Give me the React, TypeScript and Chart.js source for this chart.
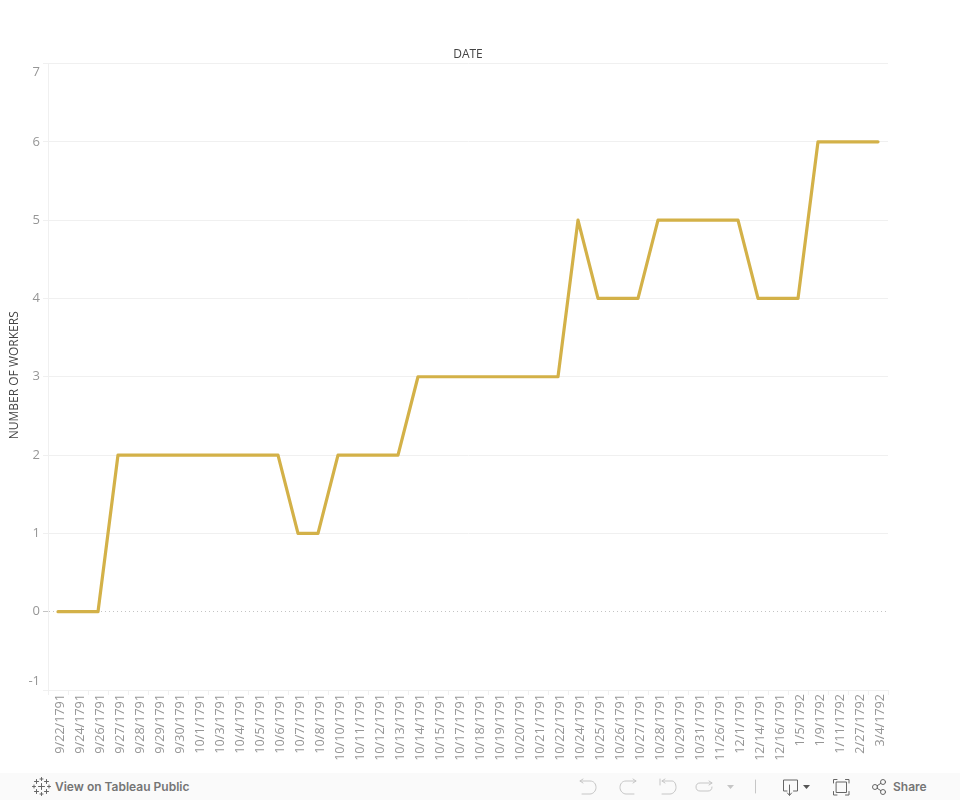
import React, { useEffect, useRef } from "react";
import { Chart, registerables } from "chart.js";

Chart.register(...registerables);

const dates = [
  "9/22/1791", "9/24/1791", "9/26/1791", "9/27/1791", "9/28/1791", "9/29/1791", "9/30/1791",
  "10/1/1791", "10/3/1791", "10/4/1791", "10/5/1791", "10/6/1791", "10/7/1791", "10/8/1791",
  "10/10/1791", "10/11/1791", "10/12/1791", "10/13/1791", "10/14/1791", "10/15/1791", "10/17/1791",
  "10/18/1791", "10/19/1791", "10/20/1791", "10/21/1791", "10/22/1791", "10/24/1791", "10/25/1791",
  "10/26/1791", "10/27/1791", "10/28/1791", "10/29/1791", "10/31/1791", "11/26/1791", "12/1/1791",
  "12/14/1791", "12/16/1791", "1/5/1792", "1/9/1792", "1/11/1792", "2/27/1792", "3/4/1792",
];
const workers = [
  0, 0, 0, 2, 2, 2, 2,
  2, 2, 2, 2, 2, 1, 1,
  2, 2, 2, 2, 3, 3, 3,
  3, 3, 3, 3, 3, 5, 4,
  4, 4, 5, 5, 5, 5, 5,
  4, 4, 4, 6, 6, 6, 6,
];
const xTitle = "DATE";
const yTitle = "NUMBER OF WORKERS";
const FONT = "'Open Sans', Roboto, sans-serif";
const GRID = "#f0f0f0";
const TICK = "#969696";
const LINE = "#d3b148";

const ico = { fill: "none", strokeWidth: 1, strokeLinecap: "round" as const, strokeLinejoin: "round" as const };

function Toolbar() {
  return (
    <div style={{ position: "absolute", left: 0, top: 773, width: 960, height: 27, background: "#fafafa", fontFamily: "Inter, Roboto, sans-serif", fontSize: 12, fontWeight: 600, color: "#757575" }}>
      <svg width={960} height={27} style={{ position: "absolute", left: 0, top: 0 }}>
        <g stroke="#666" {...ico}>
          <path d="M41.500 10.500v6M38.500 13.500h6" />
          <path d="M41.500 4.500v3M40 6h3M41.500 19.500v3M40 21h3M34 12v3M32.500 13.500h3M49 12v3M47.500 13.500h3" />
          <path d="M36.500 6.500v4M34.500 8.500h4M46.500 6.500v4M44.500 8.500h4M36.500 16.500v4M34.500 18.500h4M46.500 16.500v4M44.500 18.500h4" />
        </g>
        <g stroke="#c6c6c6" {...ico}>
          <path d="M583 6l-3 2 3 2M580 8h10c4 0 6 3 6 6.500s-3 6.500-6 6.500h-8" />
          <path d="M633 6l3 2-3 2M636 8h-10c-4 0-6 3-6 6.500s3 6.500 6 6.500h8" />
          <path d="M660 6v6M665 6l-3 2 3 2M662 8h10c2.500 0 4 3 4 6.500s-3 6.500-6 6.500h-8" />
          <path d="M709 8l3 2-3 2M712 10h-12c-2.500 0-4 1.500-4 4s1.500 4 4 4h8c2.500 0 4-1.500 4-4" />
          <path d="M755.500 7v13" />
        </g>
        <path d="M727 12h7l-3.500 4z" fill="#c6c6c6" />
        <g stroke="#666" {...ico}>
          <path d="M787 18h-3.500v-11h14v11h-4M789.500 12v10M787.500 20l2 2.500 2-2.500" />
          <path d="M833.500 10v-3.500h3.500M845.500 6.500h3.500v3.500M849 18.500v3.500h-3.500M837 22h-3.500v-3.500" />
          <rect x={836.500} y={9} width={10} height={10.500} />
          <circle cx={875} cy={14} r={2.500} />
          <circle cx={883} cy={9} r={2.500} />
          <circle cx={883} cy={19} r={2.500} />
          <path d="M877.200 12.700l3.600-2.300M877.200 15.300l3.600 2.300" />
        </g>
        <path d="M803 12h7l-3.500 4z" fill="#555" />
      </svg>
      <span style={{ position: "absolute", left: 55, top: 6, lineHeight: "15px", whiteSpace: "nowrap" }}>View on Tableau Public</span>
      <span style={{ position: "absolute", left: 893, top: 6, lineHeight: "15px", whiteSpace: "nowrap" }}>Share</span>
    </div>
  );
}

export default function App() {
  const ref = useRef<HTMLCanvasElement>(null);
  useEffect(() => {
    if (!ref.current) return;
    const chart = new Chart(ref.current, {
      type: "line",
      data: {
        labels: dates,
        datasets: [{
          label: yTitle,
          data: workers,
          borderColor: LINE,
          borderWidth: 3.2,
          pointRadius: 0,
          tension: 0,
          borderCapStyle: "round",
          borderJoinStyle: "round",
          clip: false,
        }],
      },
      options: {
        animation: false,
        responsive: false,
        events: [],
        layout: { padding: { left: 0, right: 72, top: 0, bottom: 0 } },
        plugins: {
          legend: { display: false },
          tooltip: { enabled: false },
          title: {
            display: true,
            text: xTitle,
            fullSize: false,
            color: "#444",
            font: { family: FONT, size: 12, weight: "normal", lineHeight: 1.2 },
            padding: { top: 47.8, bottom: 1.3 },
          },
        },
        scales: {
          x: {
            type: "category",
            offset: true,
            afterFit: (s: any) => { s.height = 83; },
            grid: { offset: true, drawOnChartArea: false, color: GRID, tickLength: 5, tickColor: GRID },
            border: { display: false },
            ticks: {
              autoSkip: false,
              minRotation: 90,
              maxRotation: 90,
              padding: -1,
              labelOffset: 2,
              color: TICK,
              font: { family: FONT, size: 12.6 },
            },
          },
          y: {
            min: -1,
            max: 7,
            afterFit: (s: any) => { s.width = 48; },
            title: { display: false },
            grid: {
              color: (c: any) => (c.tick && c.tick.value === 0 ? "#c4c4c4" : GRID),
              tickColor: (c: any) => (c.tick && c.tick.value === 0 ? "#c4c4c4" : GRID),
              tickLength: 5,
            },
            border: {
              color: GRID,
              dash: (c: any) => (c.tick && c.tick.value === 0 ? [1, 3] : []),
            },
            ticks: {
              stepSize: 1,
              padding: 3,
              color: TICK,
              font: { family: FONT, size: 13, lineHeight: 1.35 },
              callback: (v: any) => (v === 7 ? ["", "7"] : v === -1 ? ["-1", ""] : String(v)),
            },
          },
        },
      },
      plugins: [{
        id: "yAxisTitle",
        afterDraw(c: any) {
          const { ctx, scales } = c;
          const mid = (scales.y.top + scales.y.bottom) / 2;
          ctx.save();
          ctx.translate(15, mid - 1.5);
          ctx.rotate(-Math.PI / 2);
          ctx.textAlign = "center";
          ctx.textBaseline = "middle";
          ctx.fillStyle = "#444";
          ctx.font = `12px ${FONT}`;
          ctx.fillText(yTitle, 0, 0);
          ctx.restore();
        },
      }],
    } as any);
    return () => chart.destroy();
  }, []);
  return (
    <div style={{ position: "absolute", left: 0, top: 0, width: 960, height: 800, background: "#fff", overflow: "hidden" }}>
      <canvas ref={ref} width={960} height={773} style={{ display: "block" }} />
      <Toolbar />
    </div>
  );
}
